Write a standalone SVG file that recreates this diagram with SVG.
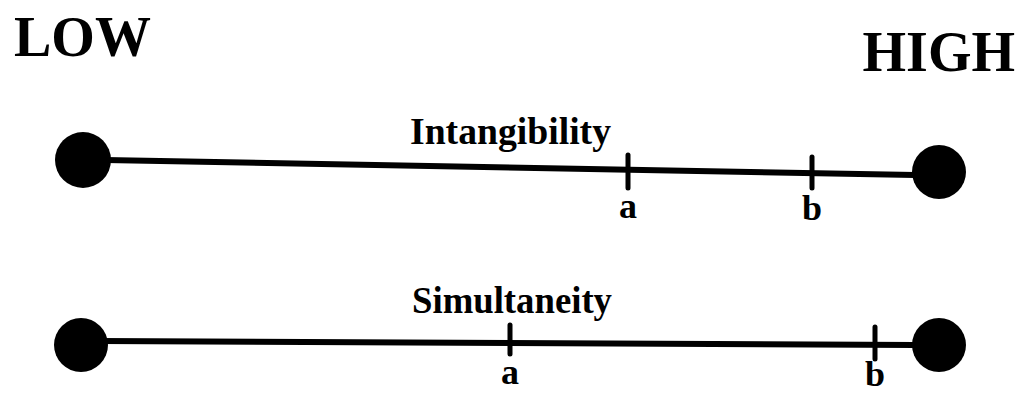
<svg xmlns="http://www.w3.org/2000/svg" width="1021" height="395" viewBox="0 0 1021 395">
<style>
text{font-family:"Liberation Serif","Times New Roman",serif;font-weight:bold;fill:#000}
.big{font-size:56px}
.lab{font-size:37px}
.sm{font-size:36px}
.ax{stroke:#000;stroke-width:6;fill:none;stroke-linecap:round}
.tk{stroke:#000;stroke-width:5;stroke-linecap:round}
.dot{fill:#000}
</style>
<rect width="1021" height="395" fill="#fff"/>
<g id="low"><text class="big" x="14" y="56">LOW</text></g>
<g id="high"><text class="big" x="1015" y="71" text-anchor="end">HIGH</text></g>
<g id="connectors">
<line class="ax" x1="105" y1="160" x2="915" y2="175"/>
<line class="ax" x1="100" y1="341" x2="915" y2="345"/>
</g>
<g id="intangibility">
<circle class="dot" cx="83" cy="160" r="28"/>
<circle class="dot" cx="939" cy="172" r="27"/>
<text class="lab" x="410" y="144" textLength="201" lengthAdjust="spacingAndGlyphs">Intangibility</text>
<line class="tk" x1="628" y1="155" x2="628" y2="188"/>
<line class="tk" x1="812" y1="157" x2="812" y2="188"/>
<text class="sm" x="628" y="218" text-anchor="middle">a</text>
<text class="sm" x="812" y="220" text-anchor="middle">b</text>
</g>
<g id="simultaneity">
<circle class="dot" cx="81" cy="345" r="27"/>
<circle class="dot" cx="939" cy="345" r="27"/>
<text class="lab" x="412" y="313" textLength="200" lengthAdjust="spacingAndGlyphs">Simultaneity</text>
<line class="tk" x1="510" y1="325" x2="510" y2="354"/>
<line class="tk" x1="875" y1="327" x2="875" y2="359"/>
<text class="sm" x="510" y="384" text-anchor="middle">a</text>
<text class="sm" x="875" y="386" text-anchor="middle">b</text>
</g>
</svg>
